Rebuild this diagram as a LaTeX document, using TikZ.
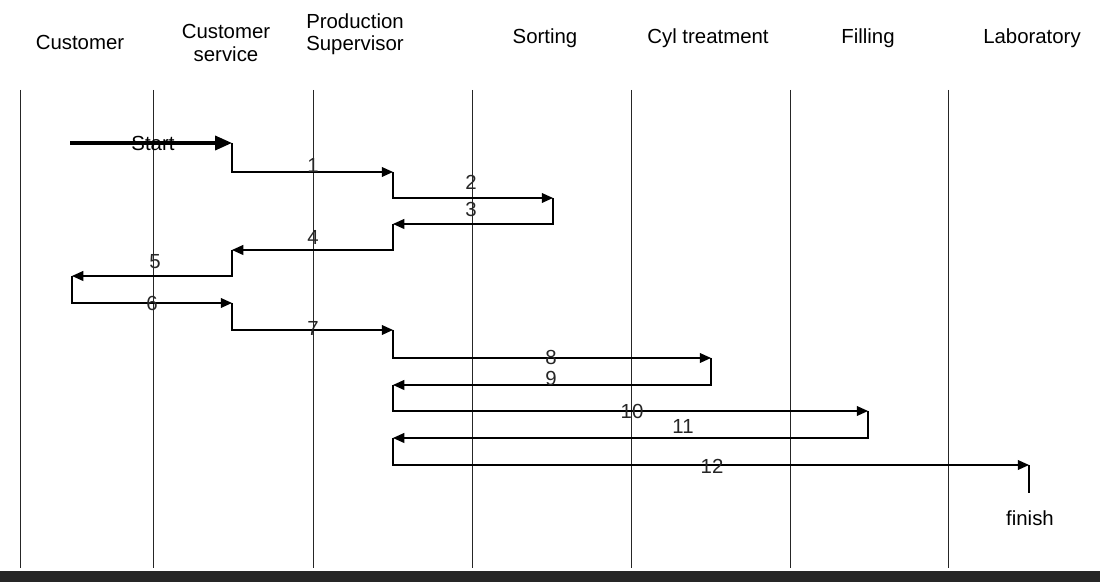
\documentclass[tikz,border=0pt]{standalone}
\usepackage{fontspec}
\setmainfont{Liberation Sans}
\usetikzlibrary{arrows.meta}

\begin{document}
\begin{tikzpicture}[x=0.025cm, y=-0.025cm,
  font=\fontsize{14.5}{16}\selectfont,
  lane/.style={line width=0.7pt, black!85},
  flow/.style={-{Triangle[length=8pt,width=7pt]}, line width=0.9pt},
  steplbl/.style={inner sep=0pt, text=black!85}]
  \useasboundingbox (0,0) rectangle (1100,582);
  % Lane headers
  \node[align=center] (hcust) at (80,42) {Customer};
  \node[align=center] (hserv) at (226,43) {Customer\\service};
  \node[align=center] (hprod) at (355,34) {Production\\Supervisor};
  \node (hsort) at (545,38) {Sorting};
  \node (hcyl) at (708,38) {Cyl treatment};
  \node (hfill) at (868,38) {Filling};
  \node (hlab) at (1032,38) {Laboratory};
  % Lane lines
  \foreach \x in {20,153,313,472,631,790,948}
    \draw[lane] (\x,90) -- (\x,568);
  % Bottom bar
  \fill[black!85] (0,571) rectangle (1100,582);
  % Turning points of the flow
  \coordinate (P0) at (70,143);
  \coordinate (P1) at (232,143);
  \coordinate (P2) at (393,172);
  \coordinate (P3) at (553,198);
  \coordinate (P4) at (393,224);
  \coordinate (P5) at (232,250);
  \coordinate (P6) at (72,276);
  \coordinate (P7) at (232,303);
  \coordinate (P8) at (393,330);
  \coordinate (P9) at (711,358);
  \coordinate (P10) at (393,385);
  \coordinate (P11) at (868,411);
  \coordinate (P12) at (393,438);
  \coordinate (P13) at (1029,465);
  \coordinate (P14) at (1029,493);
  % Start arrow
  \draw[-{Triangle[length=12pt,width=10pt]}, line width=2.3pt] (P0) -- (P1);
  \node (start) at (153,143) {Start};
  % Steps 1 to 12
  \foreach \n/\lx/\ly in {1/313/165, 2/471/182, 3/471/209, 4/313/237,
      5/155/262, 6/152/303, 7/313/328, 8/551/357, 9/551/378,
      10/632/411, 11/683/426, 12/712/466}{
    \pgfmathtruncatemacro{\m}{\n+1}
    \draw[flow] (P\n) |- (P\m);
    \node[steplbl] (lbl\n) at (\lx,\ly) {\n};
  }
  % Finish
  \draw[line width=0.9pt] (P13) -- (P14);
  \node (finish) at (1030,518) {finish};
\end{tikzpicture}
\end{document}
